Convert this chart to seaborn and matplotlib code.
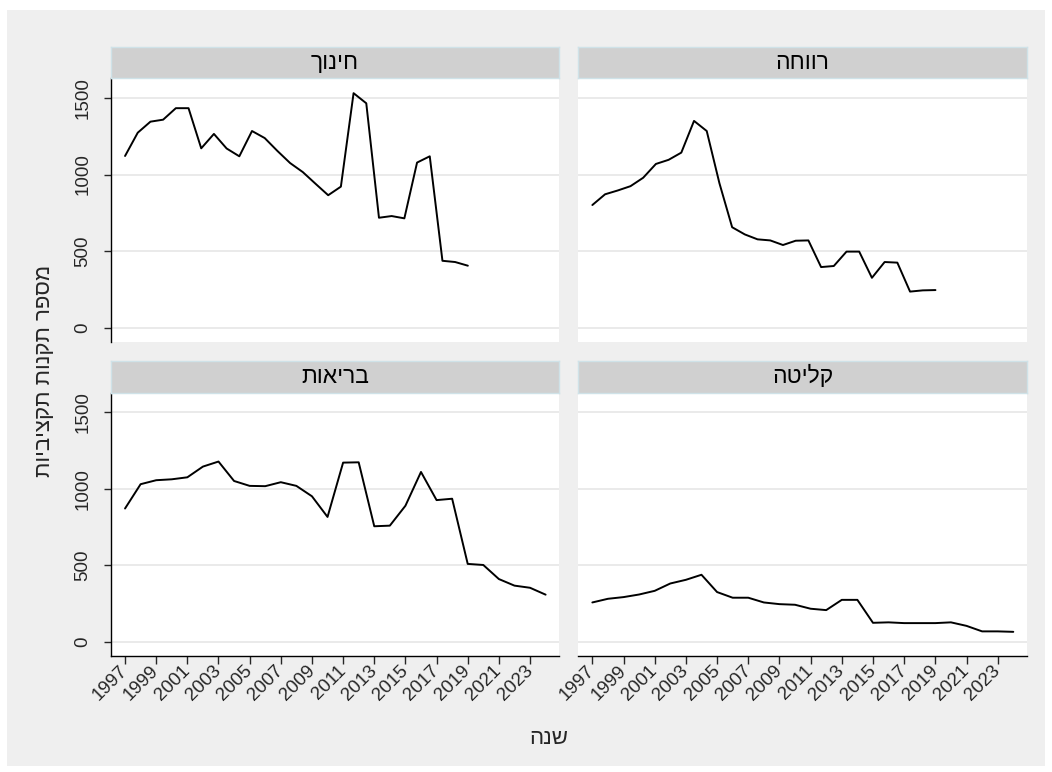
import matplotlib
matplotlib.use("Agg")
import matplotlib.pyplot as plt
import pandas as pd
import seaborn as sns
from matplotlib.patches import Rectangle

# ---- data -------------------------------------------------------------
years = list(range(1997, 2025))

education = [1121, 1273, 1345, 1358, 1433, 1433, 1171, 1265, 1170, 1119,
             1284, 1238, 1154, 1075, 1016, 940, 865, 921, 1531, 1465,
             718, 729, 714, 1078, 1119, 437, 429, 405]
welfare = [801, 871, 896, 924, 979, 1069, 1096, 1143, 1350, 1284,
           943, 656, 609, 577, 570, 540, 568, 570, 396, 403,
           497, 497, 326, 429, 425, 236, 244, 246]
health = [871, 1030, 1056, 1062, 1075, 1145, 1178, 1051, 1019, 1017,
          1043, 1019, 951, 816, 1171, 1173, 755, 759, 889, 1110,
          926, 935, 509, 502, 410, 367, 353, 308]
absorption = [257, 281, 292, 309, 333, 381, 405, 438, 325, 288,
              288, 257, 246, 242, 216, 207, 274, 274, 124, 127,
              122, 122, 122, 127, 104, 68, 68, 65]

panel_titles = ["חינוך", "רווחה", "בריאות", "קליטה"]
series = [education, welfare, health, absorption]
y_ticks = [0, 500, 1000, 1500]
x_ticks = list(range(1997, 2024, 2))
y_title = "מספר תקנות תקציביות"
x_title = "שנה"

df = pd.concat(
    [pd.DataFrame({"year": years, "count": vals, "office": t})
     for t, vals in zip(panel_titles, series)],
    ignore_index=True,
)


def visual(s):
    # matplotlib lays glyphs out left-to-right; flip Hebrew for display
    return s[::-1]


# ---- style ------------------------------------------------------------
sns.set_style("white")
plt.rcParams["font.family"] = ["Liberation Sans", "DejaVu Sans"]

W, H = 1052, 772
fig = plt.figure(figsize=(W / 100, H / 100), dpi=100)
fig.patch.set_facecolor("white")
fig.add_artist(Rectangle((7 / W, 1 - 766 / H), (1045 - 7) / W, (766 - 10) / H,
                         transform=fig.transFigure, facecolor="#efefef",
                         edgecolor="none", zorder=-10))

col_x = [(110.7, 559.0), (578.0, 1026.7)]
row_y = [(78.3, 341.7), (392.7, 655.7)]
strip_h = 31.6

grid_col = "#e8e8e8"
tick_fs = 13.5

for i, title in enumerate(panel_titles):
    r, c = divmod(i, 2)
    x0, x1 = col_x[c]
    y0, y1 = row_y[r]
    ax = fig.add_axes([x0 / W, 1 - y1 / H, (x1 - x0) / W, (y1 - y0) / H])
    ax.set_facecolor("white")

    sns.lineplot(data=df[df["office"] == title], x="year", y="count",
                 ax=ax, color="black", linewidth=1.4, estimator=None,
                 errorbar=None)

    ax.set_ylim(-91, 1628)
    if r == 0:
        ax.set_xlim(1995.87, 2031.18)
    else:
        ax.set_xlim(1996.08, 2024.86)

    ax.set_yticks(y_ticks)
    for v in y_ticks:
        ax.axhline(v, color=grid_col, linewidth=1.3, zorder=0)
    ax.grid(False)

    for s in ax.spines.values():
        s.set_visible(False)

    if c == 0:
        ax.spines["left"].set_visible(True)
        ax.spines["left"].set_color("black")
        ax.spines["left"].set_linewidth(1.0)
        ax.tick_params(axis="y", left=True, length=5, width=1.0, pad=9,
                       labelsize=tick_fs, labelrotation=90)
        for lab in ax.get_yticklabels():
            lab.set_va("center")
    else:
        ax.tick_params(axis="y", left=False, labelleft=False)

    if r == 1:
        ax.spines["bottom"].set_visible(True)
        ax.spines["bottom"].set_color("black")
        ax.spines["bottom"].set_linewidth(1.0)
        ax.set_xticks(x_ticks)
        ax.tick_params(axis="x", bottom=True, length=6, width=1.0, pad=3,
                       labelsize=tick_fs)
        ax.set_xticklabels([str(t) for t in x_ticks])
        plt.setp(ax.get_xticklabels(), rotation=45, ha="right",
                 va="center", rotation_mode="anchor")
    else:
        ax.set_xticks([])
        ax.tick_params(axis="x", bottom=False, labelbottom=False)

    ax.set_xlabel("")
    ax.set_ylabel("")

    # panel header strip
    sax = fig.add_axes([x0 / W, 1 - y0 / H, (x1 - x0) / W, strip_h / H])
    sax.set_facecolor("#d0d0d0")
    sax.set_xticks([])
    sax.set_yticks([])
    for s in sax.spines.values():
        s.set_color("#cfe2e8")
        s.set_linewidth(1.0)
    sax.text(0.5, 0.5, visual(title), transform=sax.transAxes,
             ha="center", va="center", fontsize=16.5, color="black")

fig.text(45 / W, 1 - 371 / H, visual(y_title), rotation=90,
         ha="center", va="center", fontsize=16)
fig.text(549 / W, 1 - 738 / H, visual(x_title), ha="center", va="center",
         fontsize=16)

fig.savefig("out.png", dpi=100)
